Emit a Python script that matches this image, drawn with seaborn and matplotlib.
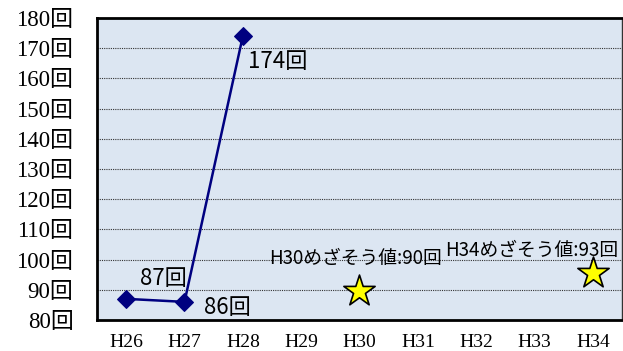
import seaborn as sns
import matplotlib.pyplot as plt
from matplotlib.ticker import FixedLocator
import pandas as pd

# データ
years = ['H26', 'H27', 'H28', 'H29', 'H30', 'H31', 'H32', 'H33', 'H34']
actual_years = ['H26', 'H27', 'H28']
actual_values = [87, 86, 174]
target_years = ['H30', 'H34']
target_values = [89.5, 95.5]
target_labels = ['H30めざそう値:90回', 'H34めざそう値:93回']
y_ticks = [80, 90, 100, 110, 120, 130, 140, 150, 160, 170, 180]

sns.set_style('white')
plt.rcParams['font.family'] = ['Liberation Serif', 'Noto Sans CJK JP']
plt.rcParams['text.color'] = 'black'
plt.rcParams['xtick.labelcolor'] = 'black'
plt.rcParams['ytick.labelcolor'] = 'black'
gothic = ['Noto Sans CJK JP', 'DejaVu Sans']

df_act = pd.DataFrame({'x': [years.index(y) for y in actual_years], 'v': actual_values})
df_tgt = pd.DataFrame({'x': [years.index(y) for y in target_years], 'v': target_values})

fig = plt.figure(figsize=(6.23, 3.51), dpi=100)
ax = fig.add_axes([97 / 623, 31 / 351, 525 / 623, 302 / 351])
ax.set_facecolor('#DCE6F2')

for yv in y_ticks[1:-1]:
    ax.axhline(yv, color='#333333', lw=0.8, ls=(0, (1, 1)), zorder=1)

sns.lineplot(data=df_act, x='x', y='v', ax=ax, color='#000080', lw=1.8,
             marker='D', markersize=9.5, markeredgecolor='#000080', zorder=3)
sns.scatterplot(data=df_tgt, x='x', y='v', ax=ax, marker='*', s=560,
                color='#FFFF00', edgecolor='black', linewidth=1.2, zorder=4)

# データラベル
ax.text(2.09, 165.5, '174回', family=gothic, fontsize=16, va='center', ha='left')
ax.text(0.24, 93.8, '87回', family=gothic, fontsize=16, va='center', ha='left')
ax.text(1.33, 84.0, '86回', family=gothic, fontsize=16, va='center', ha='left')
ax.text(3.94, 100.5, target_labels[0], family=gothic, fontsize=13.5, va='center', ha='center')
ax.text(8.43, 103.2, target_labels[1], family=gothic, fontsize=13.5, va='center', ha='right')

ax.set_xlim(-0.5, len(years) - 0.5)
ax.set_ylim(80, 180)
ax.set_xticks(range(len(years)))
ax.set_xticklabels(years, fontsize=14)
ax.set_yticks(y_ticks)
ax.set_yticklabels([f'{v}回' for v in y_ticks], fontsize=16.5)
ax.xaxis.set_minor_locator(FixedLocator([i + 0.5 for i in range(len(years) - 1)]))
ax.tick_params(axis='x', which='major', length=0, pad=10)
ax.tick_params(axis='x', which='minor', length=5, direction='in', color='#555555', width=1)
ax.tick_params(axis='y', length=0, pad=17)
ax.set_xlabel('')
ax.set_ylabel('')

for side in ['left', 'bottom', 'top']:
    ax.spines[side].set_color('black')
    ax.spines[side].set_linewidth(2)
ax.spines['right'].set_color('#333333')
ax.spines['right'].set_linewidth(1)

fig.savefig('out.png', dpi=100)
